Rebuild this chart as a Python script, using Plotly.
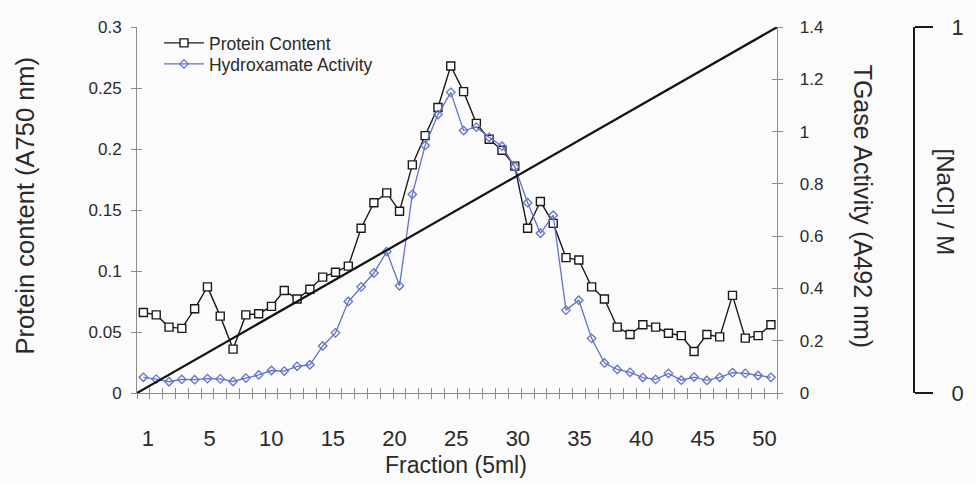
import numpy as np
import plotly.graph_objects as go

# Ion-exchange elution profile: 50 fractions of 5 ml
fractions = list(range(1, 51))

protein_a750 = [
    0.066, 0.064, 0.054, 0.053, 0.069, 0.087, 0.063, 0.036, 0.064, 0.065,
    0.071, 0.084, 0.077, 0.085, 0.095, 0.099, 0.104, 0.135, 0.156, 0.164,
    0.149, 0.187, 0.211, 0.234, 0.268, 0.247, 0.221, 0.208, 0.199, 0.186,
    0.135, 0.157, 0.139, 0.111, 0.109, 0.087, 0.077, 0.054, 0.048, 0.056,
    0.054, 0.049, 0.047, 0.034, 0.048, 0.046, 0.080, 0.045, 0.047, 0.056,
]

hydroxamate_a492 = [
    0.060, 0.053, 0.043, 0.052, 0.051, 0.055, 0.054, 0.044, 0.057, 0.069,
    0.086, 0.084, 0.102, 0.108, 0.180, 0.230, 0.350, 0.406, 0.459, 0.541,
    0.410, 0.760, 0.947, 1.065, 1.150, 1.004, 1.017, 0.978, 0.944, 0.865,
    0.728, 0.611, 0.680, 0.317, 0.355, 0.209, 0.115, 0.090, 0.079, 0.059,
    0.052, 0.075, 0.049, 0.061, 0.048, 0.060, 0.078, 0.075, 0.067, 0.060,
]

# Linear salt gradient across the whole column run
gradient_fraction = [0.5, 50.5]
gradient_nacl = [0.0, 1.0]

fraction_labels = ["1", "5", "10", "15", "20", "25", "30", "35", "40", "45", "50"]
protein_ticks = [0, 0.05, 0.1, 0.15, 0.2, 0.25, 0.3]
activity_ticks = [0, 0.2, 0.4, 0.6, 0.8, 1.0, 1.2, 1.4]

FONT = "Liberation Sans, Arial, sans-serif"
TEXT = "#2a2a2a"
AXIS = "#8c8c8c"
BLUE = "#6272c8"

# label row is spaced evenly along the axis
label_pos = np.linspace(1.35, 49.5, len(fraction_labels))
boundaries = np.arange(0.5, 51.0, 1.0)

fig = go.Figure()

# empty traces that bring the tick-only overlay axes into existence
for xa, ya in [("x2", "y"), ("x3", "y"), ("x", "y4"), ("x", "y5")]:
    fig.add_trace(go.Scatter(x=[], y=[], xaxis=xa, yaxis=ya,
                             showlegend=False, hoverinfo="skip"))

fig.add_trace(go.Scatter(
    x=gradient_fraction, y=gradient_nacl, yaxis="y3",
    mode="lines", line=dict(color="#111111", width=2.2),
    showlegend=False, hoverinfo="skip",
))
fig.add_trace(go.Scatter(
    x=fractions, y=hydroxamate_a492, yaxis="y2",
    name="Hydroxamate Activity", mode="lines+markers", legend="legend2",
    line=dict(color=BLUE, width=1.3),
    marker=dict(symbol="diamond-open", size=6.5, color=BLUE, line=dict(width=1.3)),
))
fig.add_trace(go.Scatter(
    x=fractions, y=protein_a750, yaxis="y",
    name="Protein Content", mode="lines+markers", legend="legend",
    line=dict(color="#1a1a1a", width=1.4),
    marker=dict(symbol="square", size=8, color="white",
                line=dict(color="#1a1a1a", width=1.4)),
))

XDOM = [0, 655 / 803]
tick_common = dict(tickcolor=AXIS, tickwidth=1, ticklen=5)
blank_axis = dict(showgrid=False, zeroline=False, showline=False,
                  showticklabels=False, tickmode="array")
legend_style = dict(xanchor="left", yanchor="middle", bgcolor="rgba(0,0,0,0)",
                    font=dict(size=17.5, color=TEXT), itemwidth=40)

fig.update_layout(
    width=976, height=484,
    margin=dict(l=137, r=36, t=27, b=91),
    paper_bgcolor="#fbfbfb", plot_bgcolor="rgba(0,0,0,0)",
    font=dict(family=FONT, color=TEXT, size=17),
    showlegend=True,
    legend=dict(x=0.028, y=(393 - 43) / 366, **legend_style),
    legend2=dict(x=0.028, y=(393 - 64) / 366, **legend_style),
    xaxis=dict(
        domain=XDOM, range=[0.5, 50.5], showgrid=False, zeroline=False,
        showline=True, linecolor=AXIS, linewidth=1,
        tickmode="array", tickvals=label_pos, ticktext=fraction_labels,
        ticks="", ticklabelstandoff=26, tickfont=dict(size=22),
    ),
    xaxis2=dict(overlaying="x", anchor="y", domain=XDOM, range=[0.5, 50.5],
                tickvals=boundaries, ticks="outside", **blank_axis, **tick_common),
    xaxis3=dict(overlaying="x", anchor="y", domain=XDOM, range=[0.5, 50.5],
                tickvals=boundaries, ticks="inside", **blank_axis, **tick_common),
    yaxis=dict(
        range=[0, 0.3], showgrid=False, zeroline=False,
        showline=True, linecolor=AXIS, linewidth=1,
        tickmode="array", tickvals=protein_ticks,
        ticktext=["0", "0.05", "0.1", "0.15", "0.2", "0.25", "0.3"],
        ticks="outside", ticklabelstandoff=6, tickfont=dict(size=17),
        **tick_common,
    ),
    yaxis4=dict(overlaying="y", anchor="x", side="left", range=[0, 0.3],
                tickvals=protein_ticks, ticks="inside", **blank_axis, **tick_common),
    yaxis2=dict(
        overlaying="y", anchor="x", side="right", range=[0, 1.4],
        showgrid=False, zeroline=False,
        showline=True, linecolor=AXIS, linewidth=1,
        tickmode="array", tickvals=activity_ticks,
        ticktext=["0", "0.2", "0.4", "0.6", "0.8", "1", "1.2", "1.4"],
        ticks="outside", ticklabelstandoff=13, tickfont=dict(size=17),
        **tick_common,
    ),
    yaxis5=dict(overlaying="y", anchor="x", side="right", range=[0, 1.4],
                tickvals=activity_ticks, ticks="inside", **blank_axis, **tick_common),
    yaxis3=dict(
        overlaying="y", anchor="free", side="right", position=(932 - 137) / 803,
        range=[0, 1], showgrid=False, zeroline=False,
        showline=True, linecolor="#1a1a1a", linewidth=2,
        tickmode="array", tickvals=[0, 1], ticktext=["0", "1"],
        ticks="outside", ticklen=18, tickwidth=2, tickcolor="#1a1a1a",
        ticklabelstandoff=14, tickfont=dict(size=22),
    ),
    annotations=[
        dict(text="Protein content (A750 nm)", xref="paper", yref="paper",
             x=(22 - 137) / 803, y=(393 - 206) / 366, textangle=-90, showarrow=False,
             font=dict(size=25.5), xanchor="center", yanchor="middle"),
        dict(text="TGase Activity (A492 nm)", xref="paper", yref="paper",
             x=(880 - 137) / 803, y=(393 - 206) / 366, textangle=90, showarrow=False,
             font=dict(size=25), xanchor="center", yanchor="middle"),
        dict(text="[NaCl] / M", xref="paper", yref="paper",
             x=(965 - 137) / 803, y=(393 - 202) / 366, textangle=90, showarrow=False,
             font=dict(size=24), xanchor="center", yanchor="middle"),
        dict(text="Fraction (5ml)", xref="paper", yref="paper",
             x=(463 - 137) / 803, y=(393 - 465) / 366, showarrow=False,
             font=dict(size=23), xanchor="center", yanchor="middle"),
    ],
)

fig.write_html("out.html")
